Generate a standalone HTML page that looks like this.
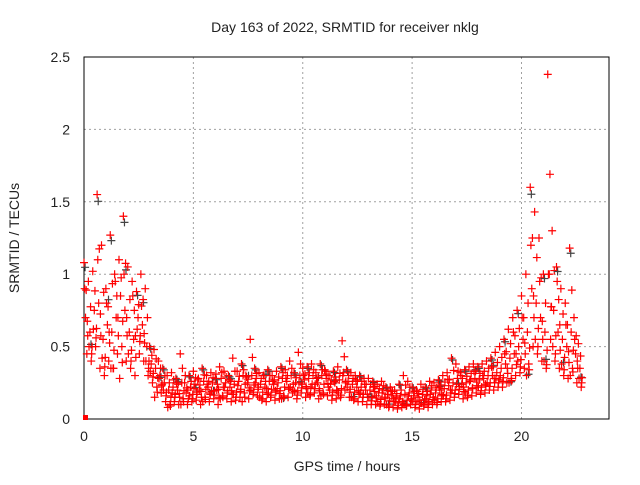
<!DOCTYPE html>
<html><head><meta charset="utf-8"><style>
body{margin:0;background:#fff;}
svg text{font-family:"Liberation Sans",sans-serif;font-size:14px;fill:#222;}
</style></head><body>
<svg width="640" height="480" xmlns="http://www.w3.org/2000/svg">
<g id="grid"></g>
<g id="axes"></g>
<g id="marks"></g>
<text x="345" y="32" text-anchor="middle">Day 163 of 2022, SRMTID for receiver nklg</text>
<text x="347" y="471" text-anchor="middle">GPS time / hours</text>
<text transform="translate(19,238) rotate(-90)" text-anchor="middle">SRMTID / TECUs</text>
</svg>
<script>
const hours=[0.0,0.2,0.4,0.6,0.8,1.0,1.2,1.4,1.6,1.8,2.0,2.2,2.4,2.6,2.8,3.0,3.2,3.4,3.6,3.8,4.0,4.2,4.4,4.6,4.8,5.0,5.2,5.4,5.6,5.8,6.0,6.2,6.4,6.6,6.8,7.0,7.2,7.4,7.6,7.8,8.0,8.2,8.4,8.6,8.8,9.0,9.2,9.4,9.6,9.8,10.0,10.2,10.4,10.6,10.8,11.0,11.2,11.4,11.6,11.8,12.0,12.2,12.4,12.6,12.8,13.0,13.2,13.4,13.6,13.8,14.0,14.2,14.4,14.6,14.8,15.0,15.2,15.4,15.6,15.8,16.0,16.2,16.4,16.6,16.8,17.0,17.2,17.4,17.6,17.8,18.0,18.2,18.4,18.6,18.8,19.0,19.2,19.4,19.6,19.8,20.0,20.2,20.4,20.6,20.8,21.0,21.2,21.4,21.6,21.8,22.0,22.2,22.4,22.6];
const seriesA=[1.08,0.95,1.02,1.55,1.2,0.9,1.27,1.0,1.1,1.4,1.05,0.95,0.88,1.0,0.9,0.5,0.48,0.4,0.35,0.3,0.32,0.28,0.45,0.25,0.3,0.33,0.27,0.35,0.3,0.32,0.28,0.36,0.33,0.3,0.42,0.33,0.38,0.3,0.55,0.35,0.32,0.3,0.34,0.3,0.33,0.36,0.34,0.4,0.32,0.46,0.35,0.36,0.38,0.32,0.38,0.34,0.3,0.33,0.36,0.54,0.34,0.32,0.3,0.3,0.28,0.28,0.26,0.24,0.26,0.22,0.22,0.2,0.24,0.3,0.26,0.22,0.2,0.24,0.22,0.26,0.25,0.27,0.3,0.32,0.42,0.38,0.32,0.34,0.36,0.38,0.36,0.38,0.4,0.42,0.46,0.5,0.55,0.62,0.7,0.75,0.85,1.0,1.6,1.43,1.25,1.0,2.38,1.3,1.05,0.9,0.8,1.18,0.7,0.52];
const seriesB=[0.7,0.6,0.75,0.8,0.55,0.65,0.6,0.7,0.85,0.75,0.6,0.55,0.7,0.65,0.5,0.38,0.35,0.3,0.25,0.2,0.22,0.2,0.25,0.18,0.22,0.24,0.2,0.26,0.22,0.25,0.2,0.28,0.25,0.22,0.24,0.26,0.3,0.25,0.3,0.28,0.24,0.22,0.26,0.24,0.25,0.28,0.26,0.3,0.25,0.3,0.27,0.28,0.3,0.25,0.3,0.28,0.24,0.25,0.27,0.32,0.26,0.24,0.22,0.22,0.2,0.2,0.19,0.18,0.2,0.17,0.16,0.15,0.16,0.17,0.18,0.16,0.15,0.17,0.16,0.2,0.18,0.2,0.21,0.23,0.25,0.28,0.24,0.25,0.27,0.28,0.27,0.28,0.3,0.3,0.32,0.35,0.38,0.42,0.45,0.5,0.55,0.6,0.9,0.8,0.7,0.6,1.0,0.75,0.6,0.55,0.5,0.6,0.45,0.35];
const seriesC=[0.45,0.4,0.5,0.35,0.3,0.4,0.35,0.45,0.5,0.4,0.35,0.3,0.45,0.4,0.3,0.25,0.22,0.18,0.12,0.1,0.12,0.1,0.14,0.1,0.12,0.13,0.1,0.15,0.12,0.14,0.1,0.16,0.14,0.12,0.13,0.15,0.18,0.14,0.17,0.16,0.13,0.12,0.15,0.13,0.14,0.16,0.15,0.18,0.14,0.18,0.15,0.16,0.18,0.14,0.18,0.16,0.13,0.14,0.15,0.2,0.15,0.13,0.12,0.12,0.1,0.1,0.1,0.09,0.1,0.08,0.08,0.07,0.08,0.09,0.1,0.08,0.07,0.09,0.08,0.1,0.1,0.12,0.12,0.13,0.15,0.17,0.14,0.15,0.16,0.18,0.17,0.18,0.2,0.2,0.22,0.22,0.25,0.28,0.3,0.32,0.35,0.38,0.5,0.45,0.4,0.35,0.55,0.4,0.35,0.3,0.28,0.35,0.25,0.22];
const seriesD=[0.9,0.5,0.62,1.1,0.42,0.8,0.35,0.95,0.28,1.0,0.45,0.85,0.62,0.78,0.4,0.33,0.15,0.28,0.2,0.08,0.18,0.25,0.1,0.3,0.16,0.21,0.28,0.12,0.24,0.19,0.31,0.14,0.22,0.27,0.17,0.23,0.12,0.29,0.2,0.25,0.15,0.3,0.18,0.26,0.21,0.14,0.28,0.22,0.19,0.25,0.3,0.18,0.24,0.28,0.16,0.33,0.2,0.26,0.18,0.3,0.22,0.15,0.27,0.18,0.24,0.15,0.22,0.12,0.18,0.1,0.2,0.12,0.14,0.1,0.16,0.12,0.19,0.11,0.14,0.17,0.13,0.22,0.16,0.27,0.2,0.24,0.3,0.18,0.26,0.33,0.22,0.3,0.25,0.36,0.28,0.3,0.45,0.25,0.6,0.4,0.7,0.3,1.2,0.55,0.95,0.4,1.0,0.5,0.95,0.38,0.65,0.3,0.55,0.28];
const xTicks=[0,5,10,15,20];
const yTicks=[0,0.5,1,1.5,2,2.5];
const yTickLabels=["0","0.5","1","1.5","2","2.5"];

const X0=84,X1=609,Y0=419,Y1=57;
const xs=v=>X0+v/24*(X1-X0);
const ys=v=>Y0-v/2.5*(Y0-Y1);
const NS="http://www.w3.org/2000/svg";
function mk(tag,attrs,parent){const e=document.createElementNS(NS,tag);for(const k in attrs)e.setAttribute(k,attrs[k]);parent.appendChild(e);return e;}
const grid=document.getElementById('grid'),axes=document.getElementById('axes'),marks=document.getElementById('marks');
xTicks.forEach(t=>{
  if(t>0){const g=mk('line',{x1:xs(t),x2:xs(t),y1:Y0,y2:Y1,stroke:'#a0a0a0','stroke-dasharray':'2,3'},grid);
  
  }
  const l=mk('text',{x:xs(t),y:Y0+22,'text-anchor':'middle'},axes);l.textContent=t;
  
  
});
yTicks.forEach((t,i)=>{
  if(t>0){const g=mk('line',{x1:X0,x2:X1,y1:ys(t),y2:ys(t),stroke:'#a0a0a0','stroke-dasharray':'2,3'},grid);
  
  }
  const l=mk('text',{x:X0-14,y:ys(t)+5,'text-anchor':'end'},axes);l.textContent=yTickLabels[i];
  
  
});
const frame=mk('rect',{x:X0,y:Y1,width:X1-X0,height:Y0-Y1,fill:'none',stroke:'#000','stroke-width':1},axes);


function plus(h,v,color){
  const x=xs(h),y=ys(v);
  const p=mk('path',{d:`M${x-4},${y}H${x+4}M${x},${y-4}V${y+4}`,stroke:color,'stroke-width':1.2},marks);
  
  
}
hours.forEach((h,i)=>{
  if(i%3===0) plus(h+0.05,seriesA[i]*0.97,'#444');
  if(i%4===1) plus(h+0.12,seriesD[i]*1.03,'#444');
  plus(h,seriesA[i],'#f00');
  plus(h+0.03,seriesD[i],'#f00');
  plus(h+0.1,(seriesA[i]+seriesB[i])/2,'#f00');
  plus(h+0.07,seriesB[i],'#f00');
  plus(h+0.13,seriesC[i],'#f00');
  plus(h+0.17,(seriesB[i]+seriesC[i])/2,'#f00');
  plus(h+0.15,(seriesD[i]+seriesC[i])/2,'#f00');
});
const sq=mk('rect',{x:xs(0)-1,y:ys(0)-4,width:5,height:5,fill:'#f00'},marks);


</script>
</body></html>
